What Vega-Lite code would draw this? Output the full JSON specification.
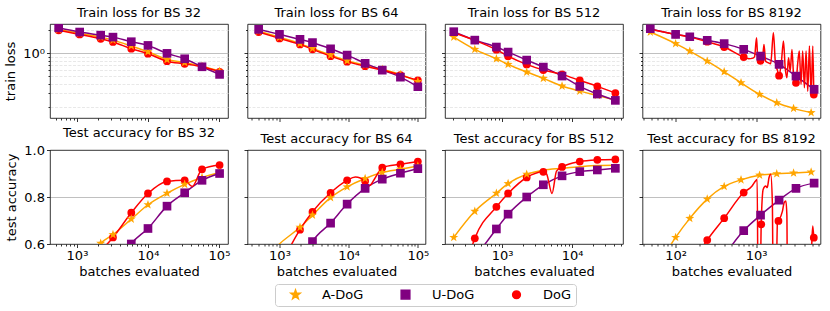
{
 "$schema": "https://vega.github.io/schema/vega-lite/v6.json",
 "padding": {"left": 4, "top": 6, "right": 5, "bottom": 4},
 "config": {
  "font": "DejaVu Sans",
  "view": {"stroke": "black", "strokeWidth": 0.8},
  "axis": {"labelFontSize": 13, "titleFontSize": 13, "titleFontWeight": "normal", "labelColor": "black", "titleColor": "black", "tickColor": "black", "tickWidth": 0.8, "domain": false, "labelPadding": 2, "labelOverlap": false, "labelFlush": false},
  "axisX": {"titlePadding": 3},
  "axisY": {"titlePadding": 5},
  "title": {"fontSize": 13, "fontWeight": "normal", "color": "black", "offset": 4},
  "legend": {"labelFontSize": 13, "labelColor": "black"}
 },
 "datasets": {
  "curves": [
   {"panel":"L32","method":"A-DoG","batches":552,"value":2.05},{"panel":"L32","method":"A-DoG","batches":1091,"value":1.83},{"panel":"L32","method":"A-DoG","batches":2158,"value":1.63},{"panel":"L32","method":"A-DoG","batches":3214,"value":1.49},{"panel":"L32","method":"A-DoG","batches":5821,"value":1.25},{"panel":"L32","method":"A-DoG","batches":10000,"value":1.05},{"panel":"L32","method":"A-DoG","batches":18535,"value":0.83},{"panel":"L32","method":"A-DoG","batches":32885,"value":0.76},{"panel":"L32","method":"A-DoG","batches":57700,"value":0.68},{"panel":"L32","method":"A-DoG","batches":102000,"value":0.585},
   {"panel":"L32","method":"U-DoG","batches":552,"value":2.16},{"panel":"L32","method":"U-DoG","batches":1091,"value":1.9},{"panel":"L32","method":"U-DoG","batches":2158,"value":1.73},{"panel":"L32","method":"U-DoG","batches":3214,"value":1.63},{"panel":"L32","method":"U-DoG","batches":5821,"value":1.42},{"panel":"L32","method":"U-DoG","batches":10000,"value":1.27},{"panel":"L32","method":"U-DoG","batches":18535,"value":1.0},{"panel":"L32","method":"U-DoG","batches":32885,"value":0.85},{"panel":"L32","method":"U-DoG","batches":57700,"value":0.668},{"panel":"L32","method":"U-DoG","batches":102000,"value":0.531},
   {"panel":"L32","method":"DoG","batches":552,"value":2.0},{"panel":"L32","method":"DoG","batches":1091,"value":1.77},{"panel":"L32","method":"DoG","batches":2158,"value":1.55},{"panel":"L32","method":"DoG","batches":3214,"value":1.41},{"panel":"L32","method":"DoG","batches":5821,"value":1.15},{"panel":"L32","method":"DoG","batches":10000,"value":0.99},{"panel":"L32","method":"DoG","batches":18535,"value":0.79},{"panel":"L32","method":"DoG","batches":32885,"value":0.73},{"panel":"L32","method":"DoG","batches":57700,"value":0.668},{"panel":"L32","method":"DoG","batches":102000,"value":0.575},

   {"panel":"L64","method":"A-DoG","batches":500,"value":1.95},{"panel":"L64","method":"A-DoG","batches":1000,"value":1.62},{"panel":"L64","method":"A-DoG","batches":1980,"value":1.34},{"panel":"L64","method":"A-DoG","batches":3000,"value":1.16},{"panel":"L64","method":"A-DoG","batches":5480,"value":0.95},{"panel":"L64","method":"A-DoG","batches":9500,"value":0.8},{"panel":"L64","method":"A-DoG","batches":17300,"value":0.7},{"panel":"L64","method":"A-DoG","batches":30600,"value":0.62},{"panel":"L64","method":"A-DoG","batches":56000,"value":0.53},{"panel":"L64","method":"A-DoG","batches":100000,"value":0.43},
   {"panel":"L64","method":"U-DoG","batches":500,"value":2.06},{"panel":"L64","method":"U-DoG","batches":1000,"value":1.77},{"panel":"L64","method":"U-DoG","batches":1980,"value":1.52},{"panel":"L64","method":"U-DoG","batches":3000,"value":1.38},{"panel":"L64","method":"U-DoG","batches":5480,"value":1.15},{"panel":"L64","method":"U-DoG","batches":9500,"value":0.95},{"panel":"L64","method":"U-DoG","batches":17300,"value":0.74},{"panel":"L64","method":"U-DoG","batches":30600,"value":0.605},{"panel":"L64","method":"U-DoG","batches":56000,"value":0.49},{"panel":"L64","method":"U-DoG","batches":100000,"value":0.366},
   {"panel":"L64","method":"DoG","batches":500,"value":1.9},{"panel":"L64","method":"DoG","batches":1000,"value":1.57},{"panel":"L64","method":"DoG","batches":1980,"value":1.31},{"panel":"L64","method":"DoG","batches":3000,"value":1.13},{"panel":"L64","method":"DoG","batches":5480,"value":0.92},{"panel":"L64","method":"DoG","batches":9500,"value":0.78},{"panel":"L64","method":"DoG","batches":17300,"value":0.68},{"panel":"L64","method":"DoG","batches":30600,"value":0.605},{"panel":"L64","method":"DoG","batches":56000,"value":0.52},{"panel":"L64","method":"DoG","batches":100000,"value":0.444},

   {"panel":"L512","method":"A-DoG","batches":204,"value":1.63},{"panel":"L512","method":"A-DoG","batches":408,"value":1.127},{"panel":"L512","method":"A-DoG","batches":830,"value":0.85},{"panel":"L512","method":"A-DoG","batches":1220,"value":0.718},{"panel":"L512","method":"A-DoG","batches":2250,"value":0.57},{"panel":"L512","method":"A-DoG","batches":3890,"value":0.471},{"panel":"L512","method":"A-DoG","batches":7200,"value":0.374},{"panel":"L512","method":"A-DoG","batches":12900,"value":0.321},{"panel":"L512","method":"A-DoG","batches":23000,"value":0.282},{"panel":"L512","method":"A-DoG","batches":41600,"value":0.245},
   {"panel":"L512","method":"U-DoG","batches":204,"value":1.92},{"panel":"L512","method":"U-DoG","batches":408,"value":1.49},{"panel":"L512","method":"U-DoG","batches":830,"value":1.21},{"panel":"L512","method":"U-DoG","batches":1220,"value":1.04},{"panel":"L512","method":"U-DoG","batches":2250,"value":0.817},{"panel":"L512","method":"U-DoG","batches":3890,"value":0.662},{"panel":"L512","method":"U-DoG","batches":7200,"value":0.505},{"panel":"L512","method":"U-DoG","batches":12900,"value":0.37},{"panel":"L512","method":"U-DoG","batches":23000,"value":0.294},{"panel":"L512","method":"U-DoG","batches":41600,"value":0.243},
   {"panel":"L512","method":"DoG","batches":204,"value":1.86},{"panel":"L512","method":"DoG","batches":408,"value":1.48},{"panel":"L512","method":"DoG","batches":830,"value":1.116},{"panel":"L512","method":"DoG","batches":1220,"value":0.92},{"panel":"L512","method":"DoG","batches":2250,"value":0.718},{"panel":"L512","method":"DoG","batches":3890,"value":0.605},{"panel":"L512","method":"DoG","batches":7200,"value":0.531},{"panel":"L512","method":"DoG","batches":12900,"value":0.443},{"panel":"L512","method":"DoG","batches":23000,"value":0.37},{"panel":"L512","method":"DoG","batches":41600,"value":0.303},

   {"panel":"L8192","method":"A-DoG","batches":48.5,"value":1.9},{"panel":"L8192","method":"A-DoG","batches":100,"value":1.34},{"panel":"L8192","method":"A-DoG","batches":150,"value":1.07},{"panel":"L8192","method":"A-DoG","batches":247,"value":0.79},{"panel":"L8192","method":"A-DoG","batches":401,"value":0.575},{"panel":"L8192","method":"A-DoG","batches":649,"value":0.413},{"panel":"L8192","method":"A-DoG","batches":1104,"value":0.291},{"panel":"L8192","method":"A-DoG","batches":1803,"value":0.226},{"panel":"L8192","method":"A-DoG","batches":2917,"value":0.191},{"panel":"L8192","method":"A-DoG","batches":4819,"value":0.168},
   {"panel":"L8192","method":"U-DoG","batches":48.5,"value":2.1},{"panel":"L8192","method":"U-DoG","batches":100,"value":1.77},{"panel":"L8192","method":"U-DoG","batches":150,"value":1.65},{"panel":"L8192","method":"U-DoG","batches":247,"value":1.48},{"panel":"L8192","method":"U-DoG","batches":401,"value":1.34},{"panel":"L8192","method":"U-DoG","batches":701,"value":1.127},{"panel":"L8192","method":"U-DoG","batches":1135,"value":0.92},{"panel":"L8192","method":"U-DoG","batches":1928,"value":0.718},{"panel":"L8192","method":"U-DoG","batches":3125,"value":0.505},{"panel":"L8192","method":"U-DoG","batches":5250,"value":0.338},
   {"panel":"L8192","method":"DoG","batches":48.5,"value":2.06},{"panel":"L8192","method":"DoG","batches":100,"value":1.77},{"panel":"L8192","method":"DoG","batches":150,"value":1.63},{"panel":"L8192","method":"DoG","batches":247,"value":1.42},{"panel":"L8192","method":"DoG","batches":401,"value":1.21},{"panel":"L8192","method":"DoG","batches":701,"value":0.895},{"panel":"L8192","method":"DoG","batches":809,"value":0.85},{"panel":"L8192","method":"DoG","batches":891,"value":0.86},{"panel":"L8192","method":"DoG","batches":955,"value":0.9},{"panel":"L8192","method":"DoG","batches":1012,"value":1.6},{"panel":"L8192","method":"DoG","batches":1050,"value":0.834},{"panel":"L8192","method":"DoG","batches":1135,"value":0.8},{"panel":"L8192","method":"DoG","batches":1191,"value":0.79},{"panel":"L8192","method":"DoG","batches":1251,"value":1.31},{"panel":"L8192","method":"DoG","batches":1313,"value":0.79},{"panel":"L8192","method":"DoG","batches":1404,"value":0.755},{"panel":"L8192","method":"DoG","batches":1517,"value":0.731},{"panel":"L8192","method":"DoG","batches":1638,"value":1.86},{"panel":"L8192","method":"DoG","batches":1735,"value":0.755},{"panel":"L8192","method":"DoG","batches":1838,"value":0.6},{"panel":"L8192","method":"DoG","batches":1928,"value":0.51},{"panel":"L8192","method":"DoG","batches":2063,"value":0.79},{"panel":"L8192","method":"DoG","batches":2186,"value":1.45},{"panel":"L8192","method":"DoG","batches":2295,"value":0.649},{"panel":"L8192","method":"DoG","batches":2410,"value":0.48},{"panel":"L8192","method":"DoG","batches":2525,"value":0.877},{"panel":"L8192","method":"DoG","batches":2650,"value":0.587},{"panel":"L8192","method":"DoG","batches":2785,"value":1.127},{"panel":"L8192","method":"DoG","batches":2917,"value":0.531},{"panel":"L8192","method":"DoG","batches":3125,"value":0.413},{"panel":"L8192","method":"DoG","batches":3275,"value":0.718},{"panel":"L8192","method":"DoG","batches":3437,"value":1.07},{"panel":"L8192","method":"DoG","batches":3610,"value":0.393},{"panel":"L8192","method":"DoG","batches":3785,"value":1.07},{"panel":"L8192","method":"DoG","batches":3975,"value":0.356},{"panel":"L8192","method":"DoG","batches":4170,"value":1.07},{"panel":"L8192","method":"DoG","batches":4375,"value":0.321},{"panel":"L8192","method":"DoG","batches":4590,"value":1.245},{"panel":"L8192","method":"DoG","batches":4820,"value":0.291},{"panel":"L8192","method":"DoG","batches":5055,"value":1.245},{"panel":"L8192","method":"DoG","batches":5200,"value":0.29},

   {"panel":"A32","method":"A-DoG","batches":1091,"value":0.45},{"panel":"A32","method":"A-DoG","batches":2158,"value":0.603},{"panel":"A32","method":"A-DoG","batches":3214,"value":0.64},{"panel":"A32","method":"A-DoG","batches":5821,"value":0.706},{"panel":"A32","method":"A-DoG","batches":10000,"value":0.767},{"panel":"A32","method":"A-DoG","batches":18535,"value":0.816},{"panel":"A32","method":"A-DoG","batches":32885,"value":0.854},{"panel":"A32","method":"A-DoG","batches":57700,"value":0.883},{"panel":"A32","method":"A-DoG","batches":102000,"value":0.904},
   {"panel":"A32","method":"U-DoG","batches":3214,"value":0.45},{"panel":"A32","method":"U-DoG","batches":5821,"value":0.6},{"panel":"A32","method":"U-DoG","batches":10000,"value":0.666},{"panel":"A32","method":"U-DoG","batches":18535,"value":0.761},{"panel":"A32","method":"U-DoG","batches":32885,"value":0.818},{"panel":"A32","method":"U-DoG","batches":57700,"value":0.871},{"panel":"A32","method":"U-DoG","batches":102000,"value":0.9},
   {"panel":"A32","method":"DoG","batches":2158,"value":0.57},{"panel":"A32","method":"DoG","batches":3214,"value":0.628},{"panel":"A32","method":"DoG","batches":5821,"value":0.733},{"panel":"A32","method":"DoG","batches":10000,"value":0.815},{"panel":"A32","method":"DoG","batches":18535,"value":0.866},{"panel":"A32","method":"DoG","batches":32885,"value":0.871},{"panel":"A32","method":"DoG","batches":42000,"value":0.845},{"panel":"A32","method":"DoG","batches":57700,"value":0.918},{"panel":"A32","method":"DoG","batches":102000,"value":0.936},

   {"panel":"A64","method":"A-DoG","batches":500,"value":0.5},{"panel":"A64","method":"A-DoG","batches":1000,"value":0.6},{"panel":"A64","method":"A-DoG","batches":1980,"value":0.671},{"panel":"A64","method":"A-DoG","batches":3000,"value":0.723},{"panel":"A64","method":"A-DoG","batches":5480,"value":0.797},{"panel":"A64","method":"A-DoG","batches":9500,"value":0.843},{"panel":"A64","method":"A-DoG","batches":17300,"value":0.879},{"panel":"A64","method":"A-DoG","batches":30600,"value":0.904},{"panel":"A64","method":"A-DoG","batches":56000,"value":0.918},{"panel":"A64","method":"A-DoG","batches":100000,"value":0.932},
   {"panel":"A64","method":"U-DoG","batches":1980,"value":0.5},{"panel":"A64","method":"U-DoG","batches":3000,"value":0.61},{"panel":"A64","method":"U-DoG","batches":5480,"value":0.689},{"panel":"A64","method":"U-DoG","batches":9500,"value":0.77},{"panel":"A64","method":"U-DoG","batches":17300,"value":0.837},{"panel":"A64","method":"U-DoG","batches":30600,"value":0.876},{"panel":"A64","method":"U-DoG","batches":56000,"value":0.901},{"panel":"A64","method":"U-DoG","batches":100000,"value":0.921},
   {"panel":"A64","method":"DoG","batches":1000,"value":0.5},{"panel":"A64","method":"DoG","batches":1980,"value":0.661},{"panel":"A64","method":"DoG","batches":3000,"value":0.737},{"panel":"A64","method":"DoG","batches":5480,"value":0.818},{"panel":"A64","method":"DoG","batches":9500,"value":0.871},{"panel":"A64","method":"DoG","batches":12500,"value":0.885},{"panel":"A64","method":"DoG","batches":17300,"value":0.868},{"panel":"A64","method":"DoG","batches":20000,"value":0.848},{"panel":"A64","method":"DoG","batches":24000,"value":0.88},{"panel":"A64","method":"DoG","batches":30600,"value":0.925},{"panel":"A64","method":"DoG","batches":56000,"value":0.939},{"panel":"A64","method":"DoG","batches":100000,"value":0.951},

   {"panel":"A512","method":"A-DoG","batches":204,"value":0.628},{"panel":"A512","method":"A-DoG","batches":408,"value":0.739},{"panel":"A512","method":"A-DoG","batches":830,"value":0.816},{"panel":"A512","method":"A-DoG","batches":1220,"value":0.857},{"panel":"A512","method":"A-DoG","batches":2250,"value":0.897},{"panel":"A512","method":"A-DoG","batches":3890,"value":0.914},{"panel":"A512","method":"A-DoG","batches":7200,"value":0.922},{"panel":"A512","method":"A-DoG","batches":12900,"value":0.929},{"panel":"A512","method":"A-DoG","batches":23000,"value":0.934},{"panel":"A512","method":"A-DoG","batches":41600,"value":0.935},
   {"panel":"A512","method":"U-DoG","batches":408,"value":0.54},{"panel":"A512","method":"U-DoG","batches":830,"value":0.664},{"panel":"A512","method":"U-DoG","batches":1220,"value":0.727},{"panel":"A512","method":"U-DoG","batches":2250,"value":0.8},{"panel":"A512","method":"U-DoG","batches":3890,"value":0.852},{"panel":"A512","method":"U-DoG","batches":7200,"value":0.89},{"panel":"A512","method":"U-DoG","batches":12900,"value":0.908},{"panel":"A512","method":"U-DoG","batches":23000,"value":0.915},{"panel":"A512","method":"U-DoG","batches":41600,"value":0.922},
   {"panel":"A512","method":"DoG","batches":300,"value":0.5},{"panel":"A512","method":"DoG","batches":408,"value":0.624},{"panel":"A512","method":"DoG","batches":830,"value":0.758},{"panel":"A512","method":"DoG","batches":1220,"value":0.815},{"panel":"A512","method":"DoG","batches":2250,"value":0.883},{"panel":"A512","method":"DoG","batches":3890,"value":0.907},{"panel":"A512","method":"DoG","batches":4300,"value":0.9},{"panel":"A512","method":"DoG","batches":5180,"value":0.815},{"panel":"A512","method":"DoG","batches":6000,"value":0.91},{"panel":"A512","method":"DoG","batches":7200,"value":0.928},{"panel":"A512","method":"DoG","batches":12900,"value":0.951},{"panel":"A512","method":"DoG","batches":23000,"value":0.958},{"panel":"A512","method":"DoG","batches":41600,"value":0.96},

   {"panel":"A8192","method":"A-DoG","batches":48.5,"value":0.45},{"panel":"A8192","method":"A-DoG","batches":100,"value":0.628},{"panel":"A8192","method":"A-DoG","batches":150,"value":0.709},{"panel":"A8192","method":"A-DoG","batches":247,"value":0.791},{"panel":"A8192","method":"A-DoG","batches":401,"value":0.845},{"panel":"A8192","method":"A-DoG","batches":649,"value":0.873},{"panel":"A8192","method":"A-DoG","batches":1104,"value":0.893},{"panel":"A8192","method":"A-DoG","batches":1803,"value":0.899},{"panel":"A8192","method":"A-DoG","batches":2917,"value":0.902},{"panel":"A8192","method":"A-DoG","batches":4819,"value":0.906},
   {"panel":"A8192","method":"U-DoG","batches":401,"value":0.55},{"panel":"A8192","method":"U-DoG","batches":701,"value":0.657},{"panel":"A8192","method":"U-DoG","batches":1135,"value":0.723},{"panel":"A8192","method":"U-DoG","batches":1928,"value":0.787},{"panel":"A8192","method":"U-DoG","batches":3125,"value":0.837},{"panel":"A8192","method":"U-DoG","batches":5250,"value":0.859},
   {"panel":"A8192","method":"DoG","batches":150,"value":0.5},{"panel":"A8192","method":"DoG","batches":247,"value":0.617},{"panel":"A8192","method":"DoG","batches":401,"value":0.71},{"panel":"A8192","method":"DoG","batches":701,"value":0.819},{"panel":"A8192","method":"DoG","batches":891,"value":0.847},{"panel":"A8192","method":"DoG","batches":982,"value":0.868},{"panel":"A8192","method":"DoG","batches":1030,"value":0.875},{"panel":"A8192","method":"DoG","batches":1060,"value":0.3},{"panel":"A8192","method":"DoG","batches":1113,"value":0.3},{"panel":"A8192","method":"DoG","batches":1156,"value":0.684},{"panel":"A8192","method":"DoG","batches":1224,"value":0.833},{"panel":"A8192","method":"DoG","batches":1313,"value":0.847},{"panel":"A8192","method":"DoG","batches":1374,"value":0.84},{"panel":"A8192","method":"DoG","batches":1444,"value":0.882},{"panel":"A8192","method":"DoG","batches":1517,"value":0.897},{"panel":"A8192","method":"DoG","batches":1589,"value":0.78},{"panel":"A8192","method":"DoG","batches":1638,"value":0.3},{"panel":"A8192","method":"DoG","batches":1753,"value":0.3},{"panel":"A8192","method":"DoG","batches":1838,"value":0.691},{"panel":"A8192","method":"DoG","batches":1892,"value":0.698},{"panel":"A8192","method":"DoG","batches":2123,"value":0.74},{"panel":"A8192","method":"DoG","batches":2229,"value":0.776},{"panel":"A8192","method":"DoG","batches":2340,"value":0.783},{"panel":"A8192","method":"DoG","batches":2410,"value":0.72},{"panel":"A8192","method":"DoG","batches":2455,"value":0.3},{"panel":"A8192","method":"DoG","batches":4800,"value":0.3},{"panel":"A8192","method":"DoG","batches":4910,"value":0.6},{"panel":"A8192","method":"DoG","batches":5055,"value":0.677},{"panel":"A8192","method":"DoG","batches":5200,"value":0.627}
  ],
  "checkpoints": [
   {"panel":"L32","method":"DoG","batches":552,"value":2.0},{"panel":"L32","method":"DoG","batches":1091,"value":1.77},{"panel":"L32","method":"DoG","batches":2158,"value":1.55},{"panel":"L32","method":"DoG","batches":3214,"value":1.41},{"panel":"L32","method":"DoG","batches":5821,"value":1.15},{"panel":"L32","method":"DoG","batches":10000,"value":0.99},{"panel":"L32","method":"DoG","batches":18535,"value":0.79},{"panel":"L32","method":"DoG","batches":32885,"value":0.73},{"panel":"L32","method":"DoG","batches":57700,"value":0.668},{"panel":"L32","method":"DoG","batches":102000,"value":0.575},
   {"panel":"L32","method":"A-DoG","batches":552,"value":2.05},{"panel":"L32","method":"A-DoG","batches":1091,"value":1.83},{"panel":"L32","method":"A-DoG","batches":2158,"value":1.63},{"panel":"L32","method":"A-DoG","batches":3214,"value":1.49},{"panel":"L32","method":"A-DoG","batches":5821,"value":1.25},{"panel":"L32","method":"A-DoG","batches":10000,"value":1.05},{"panel":"L32","method":"A-DoG","batches":18535,"value":0.83},{"panel":"L32","method":"A-DoG","batches":32885,"value":0.76},{"panel":"L32","method":"A-DoG","batches":57700,"value":0.68},{"panel":"L32","method":"A-DoG","batches":102000,"value":0.585},
   {"panel":"L32","method":"U-DoG","batches":552,"value":2.16},{"panel":"L32","method":"U-DoG","batches":1091,"value":1.9},{"panel":"L32","method":"U-DoG","batches":2158,"value":1.73},{"panel":"L32","method":"U-DoG","batches":3214,"value":1.63},{"panel":"L32","method":"U-DoG","batches":5821,"value":1.42},{"panel":"L32","method":"U-DoG","batches":10000,"value":1.27},{"panel":"L32","method":"U-DoG","batches":18535,"value":1.0},{"panel":"L32","method":"U-DoG","batches":32885,"value":0.85},{"panel":"L32","method":"U-DoG","batches":57700,"value":0.668},{"panel":"L32","method":"U-DoG","batches":102000,"value":0.531},

   {"panel":"L64","method":"DoG","batches":500,"value":1.9},{"panel":"L64","method":"DoG","batches":1000,"value":1.57},{"panel":"L64","method":"DoG","batches":1980,"value":1.31},{"panel":"L64","method":"DoG","batches":3000,"value":1.13},{"panel":"L64","method":"DoG","batches":5480,"value":0.92},{"panel":"L64","method":"DoG","batches":9500,"value":0.78},{"panel":"L64","method":"DoG","batches":17300,"value":0.68},{"panel":"L64","method":"DoG","batches":30600,"value":0.605},{"panel":"L64","method":"DoG","batches":56000,"value":0.52},{"panel":"L64","method":"DoG","batches":100000,"value":0.444},
   {"panel":"L64","method":"A-DoG","batches":500,"value":1.95},{"panel":"L64","method":"A-DoG","batches":1000,"value":1.62},{"panel":"L64","method":"A-DoG","batches":1980,"value":1.34},{"panel":"L64","method":"A-DoG","batches":3000,"value":1.16},{"panel":"L64","method":"A-DoG","batches":5480,"value":0.95},{"panel":"L64","method":"A-DoG","batches":9500,"value":0.8},{"panel":"L64","method":"A-DoG","batches":17300,"value":0.7},{"panel":"L64","method":"A-DoG","batches":30600,"value":0.62},{"panel":"L64","method":"A-DoG","batches":56000,"value":0.53},{"panel":"L64","method":"A-DoG","batches":100000,"value":0.43},
   {"panel":"L64","method":"U-DoG","batches":500,"value":2.06},{"panel":"L64","method":"U-DoG","batches":1000,"value":1.77},{"panel":"L64","method":"U-DoG","batches":1980,"value":1.52},{"panel":"L64","method":"U-DoG","batches":3000,"value":1.38},{"panel":"L64","method":"U-DoG","batches":5480,"value":1.15},{"panel":"L64","method":"U-DoG","batches":9500,"value":0.95},{"panel":"L64","method":"U-DoG","batches":17300,"value":0.74},{"panel":"L64","method":"U-DoG","batches":30600,"value":0.605},{"panel":"L64","method":"U-DoG","batches":56000,"value":0.49},{"panel":"L64","method":"U-DoG","batches":100000,"value":0.366},

   {"panel":"L512","method":"DoG","batches":204,"value":1.86},{"panel":"L512","method":"DoG","batches":408,"value":1.48},{"panel":"L512","method":"DoG","batches":830,"value":1.116},{"panel":"L512","method":"DoG","batches":1220,"value":0.92},{"panel":"L512","method":"DoG","batches":2250,"value":0.718},{"panel":"L512","method":"DoG","batches":3890,"value":0.605},{"panel":"L512","method":"DoG","batches":7200,"value":0.531},{"panel":"L512","method":"DoG","batches":12900,"value":0.443},{"panel":"L512","method":"DoG","batches":23000,"value":0.37},{"panel":"L512","method":"DoG","batches":41600,"value":0.303},
   {"panel":"L512","method":"A-DoG","batches":204,"value":1.63},{"panel":"L512","method":"A-DoG","batches":408,"value":1.127},{"panel":"L512","method":"A-DoG","batches":830,"value":0.85},{"panel":"L512","method":"A-DoG","batches":1220,"value":0.718},{"panel":"L512","method":"A-DoG","batches":2250,"value":0.57},{"panel":"L512","method":"A-DoG","batches":3890,"value":0.471},{"panel":"L512","method":"A-DoG","batches":7200,"value":0.374},{"panel":"L512","method":"A-DoG","batches":12900,"value":0.321},{"panel":"L512","method":"A-DoG","batches":23000,"value":0.282},{"panel":"L512","method":"A-DoG","batches":41600,"value":0.245},
   {"panel":"L512","method":"U-DoG","batches":204,"value":1.92},{"panel":"L512","method":"U-DoG","batches":408,"value":1.49},{"panel":"L512","method":"U-DoG","batches":830,"value":1.21},{"panel":"L512","method":"U-DoG","batches":1220,"value":1.04},{"panel":"L512","method":"U-DoG","batches":2250,"value":0.817},{"panel":"L512","method":"U-DoG","batches":3890,"value":0.662},{"panel":"L512","method":"U-DoG","batches":7200,"value":0.505},{"panel":"L512","method":"U-DoG","batches":12900,"value":0.37},{"panel":"L512","method":"U-DoG","batches":23000,"value":0.294},{"panel":"L512","method":"U-DoG","batches":41600,"value":0.243},

   {"panel":"L8192","method":"DoG","batches":48.5,"value":2.06},{"panel":"L8192","method":"DoG","batches":100,"value":1.77},{"panel":"L8192","method":"DoG","batches":150,"value":1.63},{"panel":"L8192","method":"DoG","batches":247,"value":1.42},{"panel":"L8192","method":"DoG","batches":401,"value":1.21},{"panel":"L8192","method":"DoG","batches":701,"value":0.895},{"panel":"L8192","method":"DoG","batches":1135,"value":0.8},{"panel":"L8192","method":"DoG","batches":1928,"value":0.51},{"panel":"L8192","method":"DoG","batches":3125,"value":0.413},{"panel":"L8192","method":"DoG","batches":5200,"value":0.29},
   {"panel":"L8192","method":"A-DoG","batches":48.5,"value":1.9},{"panel":"L8192","method":"A-DoG","batches":100,"value":1.34},{"panel":"L8192","method":"A-DoG","batches":150,"value":1.07},{"panel":"L8192","method":"A-DoG","batches":247,"value":0.79},{"panel":"L8192","method":"A-DoG","batches":401,"value":0.575},{"panel":"L8192","method":"A-DoG","batches":649,"value":0.413},{"panel":"L8192","method":"A-DoG","batches":1104,"value":0.291},{"panel":"L8192","method":"A-DoG","batches":1803,"value":0.226},{"panel":"L8192","method":"A-DoG","batches":2917,"value":0.191},{"panel":"L8192","method":"A-DoG","batches":4819,"value":0.168},
   {"panel":"L8192","method":"U-DoG","batches":48.5,"value":2.1},{"panel":"L8192","method":"U-DoG","batches":100,"value":1.77},{"panel":"L8192","method":"U-DoG","batches":150,"value":1.65},{"panel":"L8192","method":"U-DoG","batches":247,"value":1.48},{"panel":"L8192","method":"U-DoG","batches":401,"value":1.34},{"panel":"L8192","method":"U-DoG","batches":701,"value":1.127},{"panel":"L8192","method":"U-DoG","batches":1135,"value":0.92},{"panel":"L8192","method":"U-DoG","batches":1928,"value":0.718},{"panel":"L8192","method":"U-DoG","batches":3125,"value":0.505},{"panel":"L8192","method":"U-DoG","batches":5250,"value":0.338},

   {"panel":"A32","method":"DoG","batches":3214,"value":0.628},{"panel":"A32","method":"DoG","batches":5821,"value":0.733},{"panel":"A32","method":"DoG","batches":10000,"value":0.815},{"panel":"A32","method":"DoG","batches":18535,"value":0.866},{"panel":"A32","method":"DoG","batches":32885,"value":0.871},{"panel":"A32","method":"DoG","batches":57700,"value":0.918},{"panel":"A32","method":"DoG","batches":102000,"value":0.936},
   {"panel":"A32","method":"A-DoG","batches":2158,"value":0.603},{"panel":"A32","method":"A-DoG","batches":3214,"value":0.64},{"panel":"A32","method":"A-DoG","batches":5821,"value":0.706},{"panel":"A32","method":"A-DoG","batches":10000,"value":0.767},{"panel":"A32","method":"A-DoG","batches":18535,"value":0.816},{"panel":"A32","method":"A-DoG","batches":32885,"value":0.854},{"panel":"A32","method":"A-DoG","batches":57700,"value":0.883},{"panel":"A32","method":"A-DoG","batches":102000,"value":0.904},
   {"panel":"A32","method":"U-DoG","batches":5821,"value":0.6},{"panel":"A32","method":"U-DoG","batches":10000,"value":0.666},{"panel":"A32","method":"U-DoG","batches":18535,"value":0.761},{"panel":"A32","method":"U-DoG","batches":32885,"value":0.818},{"panel":"A32","method":"U-DoG","batches":57700,"value":0.871},{"panel":"A32","method":"U-DoG","batches":102000,"value":0.9},

   {"panel":"A64","method":"DoG","batches":1980,"value":0.661},{"panel":"A64","method":"DoG","batches":3000,"value":0.737},{"panel":"A64","method":"DoG","batches":5480,"value":0.818},{"panel":"A64","method":"DoG","batches":9500,"value":0.871},{"panel":"A64","method":"DoG","batches":17300,"value":0.868},{"panel":"A64","method":"DoG","batches":30600,"value":0.925},{"panel":"A64","method":"DoG","batches":56000,"value":0.939},{"panel":"A64","method":"DoG","batches":100000,"value":0.951},
   {"panel":"A64","method":"A-DoG","batches":1980,"value":0.671},{"panel":"A64","method":"A-DoG","batches":3000,"value":0.723},{"panel":"A64","method":"A-DoG","batches":5480,"value":0.797},{"panel":"A64","method":"A-DoG","batches":9500,"value":0.843},{"panel":"A64","method":"A-DoG","batches":17300,"value":0.879},{"panel":"A64","method":"A-DoG","batches":30600,"value":0.904},{"panel":"A64","method":"A-DoG","batches":56000,"value":0.918},{"panel":"A64","method":"A-DoG","batches":100000,"value":0.932},
   {"panel":"A64","method":"U-DoG","batches":3000,"value":0.61},{"panel":"A64","method":"U-DoG","batches":5480,"value":0.689},{"panel":"A64","method":"U-DoG","batches":9500,"value":0.77},{"panel":"A64","method":"U-DoG","batches":17300,"value":0.837},{"panel":"A64","method":"U-DoG","batches":30600,"value":0.876},{"panel":"A64","method":"U-DoG","batches":56000,"value":0.901},{"panel":"A64","method":"U-DoG","batches":100000,"value":0.921},

   {"panel":"A512","method":"DoG","batches":408,"value":0.624},{"panel":"A512","method":"DoG","batches":830,"value":0.758},{"panel":"A512","method":"DoG","batches":1220,"value":0.815},{"panel":"A512","method":"DoG","batches":2250,"value":0.883},{"panel":"A512","method":"DoG","batches":3890,"value":0.907},{"panel":"A512","method":"DoG","batches":7200,"value":0.928},{"panel":"A512","method":"DoG","batches":12900,"value":0.951},{"panel":"A512","method":"DoG","batches":23000,"value":0.958},{"panel":"A512","method":"DoG","batches":41600,"value":0.96},
   {"panel":"A512","method":"A-DoG","batches":204,"value":0.628},{"panel":"A512","method":"A-DoG","batches":408,"value":0.739},{"panel":"A512","method":"A-DoG","batches":830,"value":0.816},{"panel":"A512","method":"A-DoG","batches":1220,"value":0.857},{"panel":"A512","method":"A-DoG","batches":2250,"value":0.897},
   {"panel":"A512","method":"U-DoG","batches":830,"value":0.664},{"panel":"A512","method":"U-DoG","batches":1220,"value":0.727},{"panel":"A512","method":"U-DoG","batches":2250,"value":0.8},{"panel":"A512","method":"U-DoG","batches":3890,"value":0.852},{"panel":"A512","method":"U-DoG","batches":7200,"value":0.89},{"panel":"A512","method":"U-DoG","batches":12900,"value":0.908},{"panel":"A512","method":"U-DoG","batches":23000,"value":0.915},{"panel":"A512","method":"U-DoG","batches":41600,"value":0.922},

   {"panel":"A8192","method":"DoG","batches":247,"value":0.617},{"panel":"A8192","method":"DoG","batches":401,"value":0.71},{"panel":"A8192","method":"DoG","batches":701,"value":0.819},{"panel":"A8192","method":"DoG","batches":1156,"value":0.684},{"panel":"A8192","method":"DoG","batches":1892,"value":0.698},{"panel":"A8192","method":"DoG","batches":5200,"value":0.627},
   {"panel":"A8192","method":"A-DoG","batches":100,"value":0.628},{"panel":"A8192","method":"A-DoG","batches":150,"value":0.709},{"panel":"A8192","method":"A-DoG","batches":247,"value":0.791},{"panel":"A8192","method":"A-DoG","batches":401,"value":0.845},{"panel":"A8192","method":"A-DoG","batches":649,"value":0.873},{"panel":"A8192","method":"A-DoG","batches":1104,"value":0.893},{"panel":"A8192","method":"A-DoG","batches":1803,"value":0.899},{"panel":"A8192","method":"A-DoG","batches":2917,"value":0.902},{"panel":"A8192","method":"A-DoG","batches":4819,"value":0.906},
   {"panel":"A8192","method":"U-DoG","batches":701,"value":0.657},{"panel":"A8192","method":"U-DoG","batches":1135,"value":0.723},{"panel":"A8192","method":"U-DoG","batches":1928,"value":0.787},{"panel":"A8192","method":"U-DoG","batches":3125,"value":0.837},{"panel":"A8192","method":"U-DoG","batches":5250,"value":0.859}
  ]
 },
 "columns": 4,
 "spacing": {"row": 32, "column": 19.5},
 "bounds": "flush",
 "resolve": {"scale": {"color": "shared", "shape": "shared", "size": "shared"}},
 "concat": [
  {"width": 178, "height": 94, "title": "Train loss for BS 32",
   "layer": [
    {"data": {"name": "curves"}, "transform": [{"filter": "datum.panel == 'L32'"}],
     "mark": {"type": "line", "clip": true, "strokeWidth": 1.5, "interpolate": "monotone"},
     "encoding": {
      "x": {"field": "batches", "type": "quantitative", "scale": {"type": "log", "domain": [417, 134000], "nice": false},
            "axis": {"values": [500,600,700,800,900,1000,2000,3000,4000,5000,6000,7000,8000,9000,10000,20000,30000,40000,50000,60000,70000,80000,90000,100000], "labels": false, "title": null, "grid": false,
                     "tickSize": {"condition": {"test": "datum.value == 100 || datum.value == 1000 || datum.value == 10000 || datum.value == 100000", "value": 3.5}, "value": 2}}},
      "y": {"field": "value", "type": "quantitative", "scale": {"type": "log", "domain": [0.143, 2.42], "nice": false},
            "axis": {"values": [0.2,0.3,0.4,0.5,0.6,0.7,0.8,0.9,1,2], "labelExpr": "datum.value == 1 ? '10⁰' : ''", "title": "train loss", "grid": true, "gridWidth": 0.8,
                     "gridColor": {"condition": {"test": "datum.value == 1", "value": "#b0b0b0"}, "value": "#e2e2e2"},
                     "gridDash": {"condition": {"test": "datum.value == 1", "value": []}, "value": [3, 1.5]},
                     "tickSize": {"condition": {"test": "datum.value == 1", "value": 3.5}, "value": 2}}},
      "color": {"field": "method", "type": "nominal", "scale": {"domain": ["A-DoG", "U-DoG", "DoG"], "range": ["#FFA500", "#800080", "#FF0000"]},
                "legend": {"orient": "none", "legendX": 225, "legendY": 260, "direction": "horizontal", "title": null, "symbolSize": 64, "strokeColor": "#cccccc", "cornerRadius": 3, "padding": 4, "columnPadding": 25, "labelOffset": 20, "symbolOffset": 10, "fillColor": "white"}}
     }},
    {"data": {"name": "checkpoints"}, "transform": [{"filter": "datum.panel == 'L32'"}],
     "mark": {"type": "point", "filled": true, "clip": true, "opacity": 1},
     "encoding": {
      "x": {"field": "batches", "type": "quantitative"},
      "y": {"field": "value", "type": "quantitative"},
      "color": {"field": "method", "type": "nominal"},
      "shape": {"field": "method", "type": "nominal", "scale": {"domain": ["A-DoG", "U-DoG", "DoG"], "range": ["M0,-1L0.235,-0.324L0.951,-0.309L0.38,0.124L0.588,0.809L0,0.4L-0.588,0.809L-0.38,0.124L-0.951,-0.309L-0.235,-0.324Z", "square", "circle"]}},
      "size": {"field": "method", "type": "nominal", "scale": {"domain": ["A-DoG", "U-DoG", "DoG"], "range": [90, 60, 55]}, "legend": null}
     }}
   ]},
  {"width": 178, "height": 94, "title": "Train loss for BS 64",
   "layer": [
    {"data": {"name": "curves"}, "transform": [{"filter": "datum.panel == 'L64'"}],
     "mark": {"type": "line", "clip": true, "strokeWidth": 1.5, "interpolate": "monotone"},
     "encoding": {
      "x": {"field": "batches", "type": "quantitative", "scale": {"type": "log", "domain": [345, 129000], "nice": false},
            "axis": {"values": [400,500,600,700,800,900,1000,2000,3000,4000,5000,6000,7000,8000,9000,10000,20000,30000,40000,50000,60000,70000,80000,90000,100000], "labels": false, "title": null, "grid": false,
                     "tickSize": {"condition": {"test": "datum.value == 100 || datum.value == 1000 || datum.value == 10000 || datum.value == 100000", "value": 3.5}, "value": 2}}},
      "y": {"field": "value", "type": "quantitative", "scale": {"type": "log", "domain": [0.143, 2.42], "nice": false},
            "axis": {"values": [0.2,0.3,0.4,0.5,0.6,0.7,0.8,0.9,1,2], "labels": false, "title": null, "grid": true, "gridWidth": 0.8,
                     "gridColor": {"condition": {"test": "datum.value == 1", "value": "#b0b0b0"}, "value": "#e2e2e2"},
                     "gridDash": {"condition": {"test": "datum.value == 1", "value": []}, "value": [3, 1.5]},
                     "tickSize": {"condition": {"test": "datum.value == 1", "value": 3.5}, "value": 2}}},
      "color": {"field": "method", "type": "nominal"}
     }},
    {"data": {"name": "checkpoints"}, "transform": [{"filter": "datum.panel == 'L64'"}],
     "mark": {"type": "point", "filled": true, "clip": true, "opacity": 1},
     "encoding": {
      "x": {"field": "batches", "type": "quantitative"},
      "y": {"field": "value", "type": "quantitative"},
      "color": {"field": "method", "type": "nominal"},
      "shape": {"field": "method", "type": "nominal"},
      "size": {"field": "method", "type": "nominal", "legend": null}
     }}
   ]},
  {"width": 178, "height": 94, "title": "Train loss for BS 512",
   "layer": [
    {"data": {"name": "curves"}, "transform": [{"filter": "datum.panel == 'L512'"}],
     "mark": {"type": "line", "clip": true, "strokeWidth": 1.5, "interpolate": "monotone"},
     "encoding": {
      "x": {"field": "batches", "type": "quantitative", "scale": {"type": "log", "domain": [153, 53500], "nice": false},
            "axis": {"values": [200,300,400,500,600,700,800,900,1000,2000,3000,4000,5000,6000,7000,8000,9000,10000,20000,30000,40000,50000], "labels": false, "title": null, "grid": false,
                     "tickSize": {"condition": {"test": "datum.value == 100 || datum.value == 1000 || datum.value == 10000 || datum.value == 100000", "value": 3.5}, "value": 2}}},
      "y": {"field": "value", "type": "quantitative", "scale": {"type": "log", "domain": [0.143, 2.42], "nice": false},
            "axis": {"values": [0.2,0.3,0.4,0.5,0.6,0.7,0.8,0.9,1,2], "labels": false, "title": null, "grid": true, "gridWidth": 0.8,
                     "gridColor": {"condition": {"test": "datum.value == 1", "value": "#b0b0b0"}, "value": "#e2e2e2"},
                     "gridDash": {"condition": {"test": "datum.value == 1", "value": []}, "value": [3, 1.5]},
                     "tickSize": {"condition": {"test": "datum.value == 1", "value": 3.5}, "value": 2}}},
      "color": {"field": "method", "type": "nominal"}
     }},
    {"data": {"name": "checkpoints"}, "transform": [{"filter": "datum.panel == 'L512'"}],
     "mark": {"type": "point", "filled": true, "clip": true, "opacity": 1},
     "encoding": {
      "x": {"field": "batches", "type": "quantitative"},
      "y": {"field": "value", "type": "quantitative"},
      "color": {"field": "method", "type": "nominal"},
      "shape": {"field": "method", "type": "nominal"},
      "size": {"field": "method", "type": "nominal", "legend": null}
     }}
   ]},
  {"width": 178, "height": 94, "title": "Train loss for BS 8192",
   "layer": [
    {"data": {"name": "curves"}, "transform": [{"filter": "datum.panel == 'L8192'"}],
     "mark": {"type": "line", "clip": true, "strokeWidth": 1.5, "interpolate": "monotone"},
     "encoding": {
      "x": {"field": "batches", "type": "quantitative", "scale": {"type": "log", "domain": [38.8, 6300], "nice": false},
            "axis": {"values": [40,50,60,70,80,90,100,200,300,400,500,600,700,800,900,1000,2000,3000,4000,5000,6000], "labels": false, "title": null, "grid": false,
                     "tickSize": {"condition": {"test": "datum.value == 100 || datum.value == 1000 || datum.value == 10000 || datum.value == 100000", "value": 3.5}, "value": 2}}},
      "y": {"field": "value", "type": "quantitative", "scale": {"type": "log", "domain": [0.143, 2.42], "nice": false},
            "axis": {"values": [0.2,0.3,0.4,0.5,0.6,0.7,0.8,0.9,1,2], "labels": false, "title": null, "grid": true, "gridWidth": 0.8,
                     "gridColor": {"condition": {"test": "datum.value == 1", "value": "#b0b0b0"}, "value": "#e2e2e2"},
                     "gridDash": {"condition": {"test": "datum.value == 1", "value": []}, "value": [3, 1.5]},
                     "tickSize": {"condition": {"test": "datum.value == 1", "value": 3.5}, "value": 2}}},
      "color": {"field": "method", "type": "nominal"}
     }},
    {"data": {"name": "checkpoints"}, "transform": [{"filter": "datum.panel == 'L8192'"}],
     "mark": {"type": "point", "filled": true, "clip": true, "opacity": 1},
     "encoding": {
      "x": {"field": "batches", "type": "quantitative"},
      "y": {"field": "value", "type": "quantitative"},
      "color": {"field": "method", "type": "nominal"},
      "shape": {"field": "method", "type": "nominal"},
      "size": {"field": "method", "type": "nominal", "legend": null}
     }}
   ]},
  {"width": 178, "height": 94, "title": "Test accuracy for BS 32",
   "layer": [
    {"data": {"name": "curves"}, "transform": [{"filter": "datum.panel == 'A32'"}],
     "mark": {"type": "line", "clip": true, "strokeWidth": 1.5, "interpolate": "monotone"},
     "encoding": {
      "x": {"field": "batches", "type": "quantitative", "scale": {"type": "log", "domain": [417, 134000], "nice": false},
            "axis": {"values": [500,600,700,800,900,1000,2000,3000,4000,5000,6000,7000,8000,9000,10000,20000,30000,40000,50000,60000,70000,80000,90000,100000], "labelExpr": "datum.value == 100 ? '10²' : datum.value == 1000 ? '10³' : datum.value == 10000 ? '10⁴' : datum.value == 100000 ? '10⁵' : ''", "title": "batches evaluated", "grid": false,
                     "tickSize": {"condition": {"test": "datum.value == 100 || datum.value == 1000 || datum.value == 10000 || datum.value == 100000", "value": 3.5}, "value": 2}}},
      "y": {"field": "value", "type": "quantitative", "scale": {"domain": [0.6, 1.0], "nice": false},
            "axis": {"values": [0.6, 0.8, 1.0], "format": ".1f", "title": "test accuracy", "grid": true, "gridWidth": 0.8, "gridColor": "#b0b0b0", "tickSize": 3.5,
                     "gridOpacity": {"condition": {"test": "datum.value == 0.8", "value": 1}, "value": 0}}},
      "color": {"field": "method", "type": "nominal"}
     }},
    {"data": {"name": "checkpoints"}, "transform": [{"filter": "datum.panel == 'A32'"}],
     "mark": {"type": "point", "filled": true, "clip": true, "opacity": 1},
     "encoding": {
      "x": {"field": "batches", "type": "quantitative"},
      "y": {"field": "value", "type": "quantitative"},
      "color": {"field": "method", "type": "nominal"},
      "shape": {"field": "method", "type": "nominal"},
      "size": {"field": "method", "type": "nominal", "legend": null}
     }}
   ]},
  {"width": 178, "height": 94, "title": "Test accuracy for BS 64",
   "layer": [
    {"data": {"name": "curves"}, "transform": [{"filter": "datum.panel == 'A64'"}],
     "mark": {"type": "line", "clip": true, "strokeWidth": 1.5, "interpolate": "monotone"},
     "encoding": {
      "x": {"field": "batches", "type": "quantitative", "scale": {"type": "log", "domain": [345, 129000], "nice": false},
            "axis": {"values": [400,500,600,700,800,900,1000,2000,3000,4000,5000,6000,7000,8000,9000,10000,20000,30000,40000,50000,60000,70000,80000,90000,100000], "labelExpr": "datum.value == 100 ? '10²' : datum.value == 1000 ? '10³' : datum.value == 10000 ? '10⁴' : datum.value == 100000 ? '10⁵' : ''", "title": "batches evaluated", "grid": false,
                     "tickSize": {"condition": {"test": "datum.value == 100 || datum.value == 1000 || datum.value == 10000 || datum.value == 100000", "value": 3.5}, "value": 2}}},
      "y": {"field": "value", "type": "quantitative", "scale": {"domain": [0.6, 1.0], "nice": false},
            "axis": {"values": [0.6, 0.8, 1.0], "labels": false, "title": null, "grid": true, "gridWidth": 0.8, "gridColor": "#b0b0b0", "tickSize": 3.5,
                     "gridOpacity": {"condition": {"test": "datum.value == 0.8", "value": 1}, "value": 0}}},
      "color": {"field": "method", "type": "nominal"}
     }},
    {"data": {"name": "checkpoints"}, "transform": [{"filter": "datum.panel == 'A64'"}],
     "mark": {"type": "point", "filled": true, "clip": true, "opacity": 1},
     "encoding": {
      "x": {"field": "batches", "type": "quantitative"},
      "y": {"field": "value", "type": "quantitative"},
      "color": {"field": "method", "type": "nominal"},
      "shape": {"field": "method", "type": "nominal"},
      "size": {"field": "method", "type": "nominal", "legend": null}
     }}
   ]},
  {"width": 178, "height": 94, "title": "Test accuracy for BS 512",
   "layer": [
    {"data": {"name": "curves"}, "transform": [{"filter": "datum.panel == 'A512'"}],
     "mark": {"type": "line", "clip": true, "strokeWidth": 1.5, "interpolate": "monotone"},
     "encoding": {
      "x": {"field": "batches", "type": "quantitative", "scale": {"type": "log", "domain": [153, 53500], "nice": false},
            "axis": {"values": [200,300,400,500,600,700,800,900,1000,2000,3000,4000,5000,6000,7000,8000,9000,10000,20000,30000,40000,50000], "labelExpr": "datum.value == 100 ? '10²' : datum.value == 1000 ? '10³' : datum.value == 10000 ? '10⁴' : datum.value == 100000 ? '10⁵' : ''", "title": "batches evaluated", "grid": false,
                     "tickSize": {"condition": {"test": "datum.value == 100 || datum.value == 1000 || datum.value == 10000 || datum.value == 100000", "value": 3.5}, "value": 2}}},
      "y": {"field": "value", "type": "quantitative", "scale": {"domain": [0.6, 1.0], "nice": false},
            "axis": {"values": [0.6, 0.8, 1.0], "labels": false, "title": null, "grid": true, "gridWidth": 0.8, "gridColor": "#b0b0b0", "tickSize": 3.5,
                     "gridOpacity": {"condition": {"test": "datum.value == 0.8", "value": 1}, "value": 0}}},
      "color": {"field": "method", "type": "nominal"}
     }},
    {"data": {"name": "checkpoints"}, "transform": [{"filter": "datum.panel == 'A512'"}],
     "mark": {"type": "point", "filled": true, "clip": true, "opacity": 1},
     "encoding": {
      "x": {"field": "batches", "type": "quantitative"},
      "y": {"field": "value", "type": "quantitative"},
      "color": {"field": "method", "type": "nominal"},
      "shape": {"field": "method", "type": "nominal"},
      "size": {"field": "method", "type": "nominal", "legend": null}
     }}
   ]},
  {"width": 178, "height": 94, "title": "Test accuracy for BS 8192",
   "layer": [
    {"data": {"name": "curves"}, "transform": [{"filter": "datum.panel == 'A8192'"}],
     "mark": {"type": "line", "clip": true, "strokeWidth": 1.5, "interpolate": "monotone"},
     "encoding": {
      "x": {"field": "batches", "type": "quantitative", "scale": {"type": "log", "domain": [38.8, 6300], "nice": false},
            "axis": {"values": [40,50,60,70,80,90,100,200,300,400,500,600,700,800,900,1000,2000,3000,4000,5000,6000], "labelExpr": "datum.value == 100 ? '10²' : datum.value == 1000 ? '10³' : datum.value == 10000 ? '10⁴' : datum.value == 100000 ? '10⁵' : ''", "title": "batches evaluated", "grid": false,
                     "tickSize": {"condition": {"test": "datum.value == 100 || datum.value == 1000 || datum.value == 10000 || datum.value == 100000", "value": 3.5}, "value": 2}}},
      "y": {"field": "value", "type": "quantitative", "scale": {"domain": [0.6, 1.0], "nice": false},
            "axis": {"values": [0.6, 0.8, 1.0], "labels": false, "title": null, "grid": true, "gridWidth": 0.8, "gridColor": "#b0b0b0", "tickSize": 3.5,
                     "gridOpacity": {"condition": {"test": "datum.value == 0.8", "value": 1}, "value": 0}}},
      "color": {"field": "method", "type": "nominal"}
     }},
    {"data": {"name": "checkpoints"}, "transform": [{"filter": "datum.panel == 'A8192'"}],
     "mark": {"type": "point", "filled": true, "clip": true, "opacity": 1},
     "encoding": {
      "x": {"field": "batches", "type": "quantitative"},
      "y": {"field": "value", "type": "quantitative"},
      "color": {"field": "method", "type": "nominal"},
      "shape": {"field": "method", "type": "nominal"},
      "size": {"field": "method", "type": "nominal", "legend": null}
     }}
   ]}
 ]
}
